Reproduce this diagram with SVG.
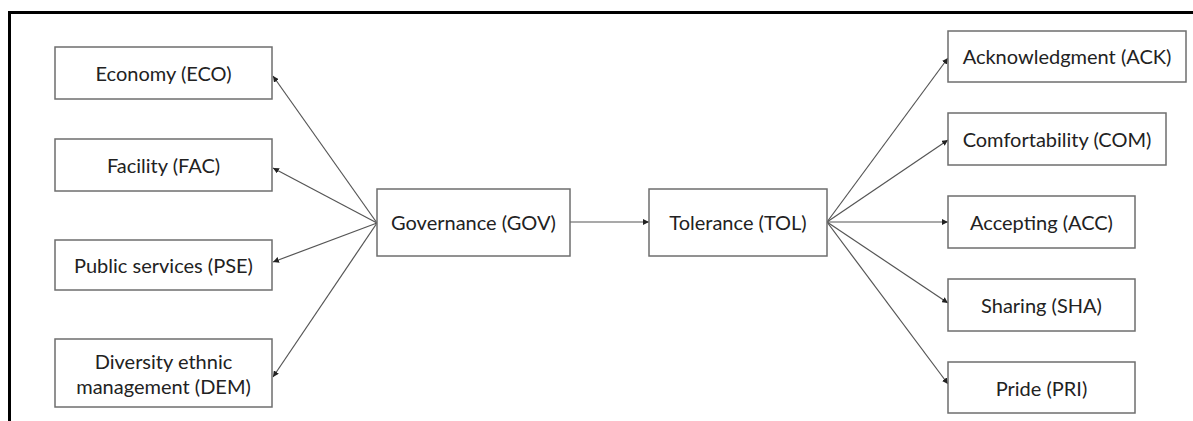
<svg xmlns="http://www.w3.org/2000/svg" width="1193" height="421" viewBox="0 0 1193 421">
<style>
.box{fill:#fff;stroke:#6e6e6e;stroke-width:1.5}
.t{font-family:Lato,"Liberation Sans",sans-serif;font-size:20px;fill:#222;text-anchor:middle;dominant-baseline:central}
.c{stroke:#555;stroke-width:1.2;fill:none;marker-end:url(#ah)}
</style>
<defs>
<marker id="ah" viewBox="0 0 10 10" refX="10" refY="5" markerWidth="6" markerHeight="6" markerUnits="userSpaceOnUse" orient="auto">
<path d="M0,0 L10,5 L0,10 z" fill="#222"/>
</marker>
</defs>
<rect width="1193" height="421" fill="#fff"/>
<path d="M9.5,421 V12.5 H1193" fill="none" stroke="#000" stroke-width="3"/>
<g id="connectors">
<line class="c" x1="377" y1="223" x2="273" y2="76"/>
<line class="c" x1="377" y1="223" x2="273" y2="168"/>
<line class="c" x1="377" y1="223" x2="273" y2="262"/>
<line class="c" x1="377" y1="223" x2="273" y2="377"/>
<line class="c" x1="570" y1="222" x2="649" y2="222"/>
<line class="c" x1="827" y1="222" x2="948" y2="58"/>
<line class="c" x1="827" y1="222" x2="948" y2="140"/>
<line class="c" x1="827" y1="222" x2="948" y2="222"/>
<line class="c" x1="827" y1="222" x2="948" y2="303"/>
<line class="c" x1="827" y1="222" x2="948" y2="384"/>
</g>
<g id="eco"><rect class="box" x="55" y="47" width="217" height="52"/><text class="t" x="163.5" y="73">Economy (ECO)</text></g>
<g id="fac"><rect class="box" x="55" y="139" width="217" height="52"/><text class="t" x="163.5" y="165">Facility (FAC)</text></g>
<g id="pse"><rect class="box" x="55" y="240" width="217" height="50"/><text class="t" x="163.5" y="265">Public services (PSE)</text></g>
<g id="dem"><rect class="box" x="55" y="339" width="217" height="68"/><text class="t" x="163.5" y="361">Diversity ethnic</text><text class="t" x="163.5" y="386">management (DEM)</text></g>
<g id="gov"><rect class="box" x="377" y="189" width="193" height="67"/><text class="t" x="473.5" y="222">Governance (GOV)</text></g>
<g id="tol"><rect class="box" x="649" y="189" width="178" height="67"/><text class="t" x="738" y="222">Tolerance (TOL)</text></g>
<g id="ack"><rect class="box" x="948" y="31" width="238" height="51"/><text class="t" x="1067" y="56">Acknowledgment (ACK)</text></g>
<g id="com"><rect class="box" x="948" y="113" width="218" height="52"/><text class="t" x="1057" y="139">Comfortability (COM)</text></g>
<g id="acc"><rect class="box" x="948" y="196" width="187" height="52"/><text class="t" x="1041.5" y="222">Accepting (ACC)</text></g>
<g id="sha"><rect class="box" x="948" y="279" width="187" height="52"/><text class="t" x="1041.5" y="305">Sharing (SHA)</text></g>
<g id="pri"><rect class="box" x="948" y="362" width="187" height="51"/><text class="t" x="1041.5" y="388">Pride (PRI)</text></g>
</svg>
